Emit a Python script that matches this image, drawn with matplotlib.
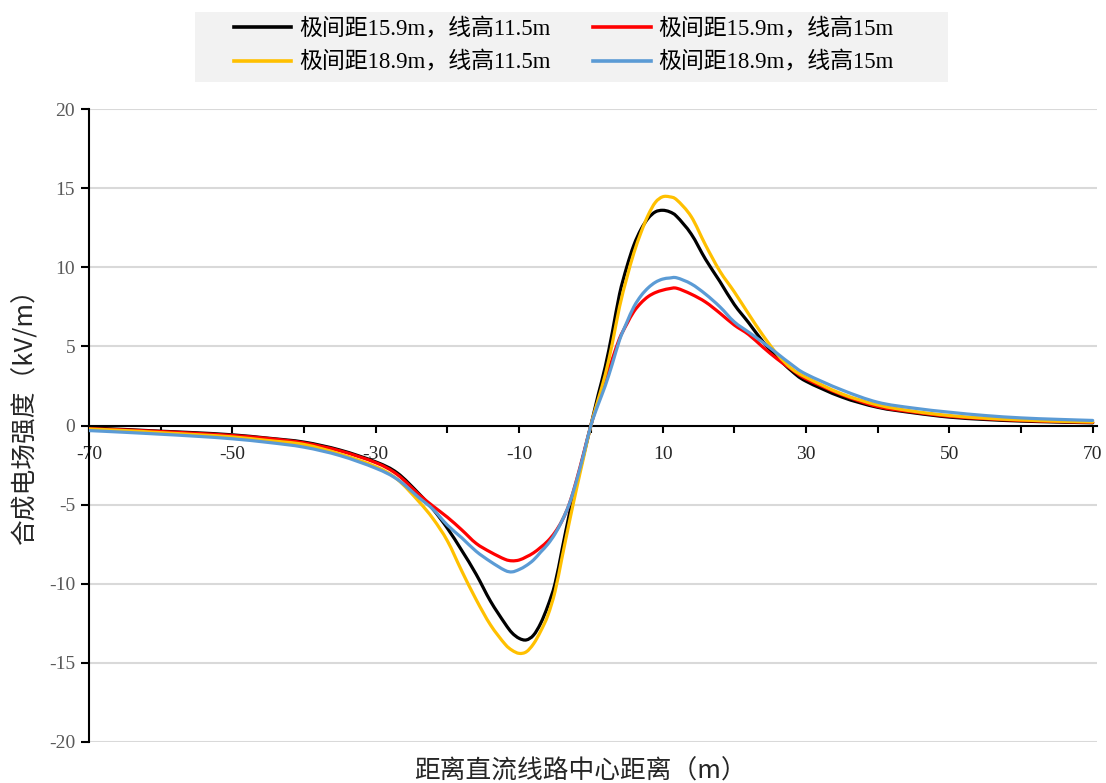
import matplotlib
matplotlib.use("Agg")
import matplotlib.pyplot as plt
from matplotlib.patches import Rectangle, PathPatch
from matplotlib.path import Path
from matplotlib.lines import Line2D

plt.rcParams['font.family'] = ['Liberation Serif', 'Noto Sans CJK SC', 'DejaVu Sans']
plt.rcParams['axes.unicode_minus'] = False

# distance from line centre (m)
distance = [-70, -65, -60, -55, -50, -45, -40, -35,
            -30, -27, -24, -22, -20, -18, -16, -14, -12,
            -11, -10, -9, -8, -7, -6, -5, -4, -3, -2, -1,
            0,
            1, 2, 3, 4, 5, 6, 7, 8, 9, 10, 11, 12,
            14, 16, 18, 20, 22, 24, 26, 28, 30,
            35, 40, 45, 50, 55, 60, 65, 70]

# total electric field (kV/m)
e_159_115 = [-0.15, -0.25, -0.36, -0.46, -0.59, -0.80, -1.05, -1.55,
             -2.30, -3.00, -4.30, -5.30, -6.50, -7.90, -9.40, -11.1, -12.5,
             -13.1, -13.45, -13.55, -13.25, -12.5, -11.4, -10.0, -7.80, -5.60, -3.70, -1.85,
             0.0,
             1.90, 3.70, 5.90, 8.30, 10.0, 11.4, 12.4, 13.1, 13.5, 13.6, 13.5, 13.2,
             12.1, 10.5, 9.10, 7.65, 6.50, 5.30, 4.30, 3.45, 2.80,
             1.80, 1.15, 0.80, 0.53, 0.38, 0.28, 0.22, 0.17]

e_159_15 = [-0.20, -0.28, -0.38, -0.50, -0.63, -0.82, -1.10, -1.60,
            -2.35, -3.10, -4.35, -5.10, -5.80, -6.60, -7.45, -8.00, -8.45,
            -8.55, -8.50, -8.30, -8.05, -7.70, -7.30, -6.75, -6.00, -4.95, -3.45, -1.75,
            0.0,
            1.50, 2.90, 4.20, 5.50, 6.40, 7.20, 7.75, 8.15, 8.40, 8.55, 8.65, 8.67,
            8.30, 7.80, 7.10, 6.35, 5.75, 4.95, 4.20, 3.55, 2.95,
            1.95, 1.20, 0.85, 0.58, 0.43, 0.32, 0.25, 0.20]

e_189_115 = [-0.22, -0.32, -0.45, -0.58, -0.72, -0.95, -1.20, -1.80,
             -2.60, -3.40, -4.80, -5.90, -7.30, -9.20, -11.0, -12.6, -13.8,
             -14.2, -14.4, -14.3, -13.8, -13.0, -12.0, -10.5, -8.30, -6.10, -4.00, -2.00,
             0.0,
             1.60, 3.20, 5.20, 7.50, 9.30, 10.9, 12.2, 13.3, 14.1, 14.45, 14.45, 14.25,
             13.2, 11.4, 9.75, 8.45, 7.05, 5.70, 4.50, 3.60, 3.05,
             2.00, 1.30, 0.90, 0.63, 0.46, 0.35, 0.27, 0.22]

e_189_15 = [-0.32, -0.43, -0.55, -0.68, -0.84, -1.07, -1.37, -1.90,
            -2.70, -3.40, -4.55, -5.30, -6.30, -7.10, -7.95, -8.60, -9.15,
            -9.25, -9.10, -8.85, -8.50, -8.00, -7.50, -6.85, -6.00, -4.95, -3.50, -1.80,
            0.0,
            1.30, 2.50, 3.90, 5.40, 6.50, 7.50, 8.20, 8.70, 9.05, 9.25, 9.32, 9.33,
            8.95, 8.30, 7.50, 6.55, 5.90, 5.25, 4.55, 3.85, 3.25,
            2.25, 1.47, 1.10, 0.84, 0.63, 0.48, 0.39, 0.32]

labels = ["极间距15.9m，线高11.5m", "极间距15.9m，线高15m",
          "极间距18.9m，线高11.5m", "极间距18.9m，线高15m"]
colors = ["#000000", "#ff0000", "#ffc000", "#5b9bd5"]
series = [e_159_115, e_159_15, e_189_115, e_189_15]

x_ticks = list(range(-70, 71, 10))
x_ticklabels = [str(t) if (t // 10) % 2 != 0 else "" for t in x_ticks]
y_ticks = list(range(-20, 21, 5))


def smooth_path(xs, ys):
    """Smoothed line through the points as cubic Bezier segments (Catmull-Rom)."""
    n = len(xs)
    verts = [(xs[0], ys[0])]
    codes = [Path.MOVETO]
    for i in range(n - 1):
        i0 = max(i - 1, 0)
        i3 = min(i + 2, n - 1)
        c1 = (xs[i] + (xs[i + 1] - xs[i0]) / 6.0, ys[i] + (ys[i + 1] - ys[i0]) / 6.0)
        c2 = (xs[i + 1] - (xs[i3] - xs[i]) / 6.0, ys[i + 1] - (ys[i3] - ys[i]) / 6.0)
        verts += [c1, c2, (xs[i + 1], ys[i + 1])]
        codes += [Path.CURVE4] * 3
    return Path(verts, codes)


W, H = 1106, 783
fig = plt.figure(figsize=(W / 100, H / 100), dpi=100)
ax = fig.add_axes([89 / W, 1 - 742 / H, (1097 - 89) / W, (742 - 109) / H])

handles = []
for vals, c, lab in zip(series, colors, labels):
    ax.add_patch(PathPatch(smooth_path(distance, vals), facecolor="none", edgecolor=c,
                           lw=2.3, capstyle="round", joinstyle="round", zorder=3))
    handles.append(Line2D([], [], color=c, lw=2.6, label=lab))

ax.set_xlim(-70, 70.6)
ax.set_ylim(-20, 20)
ax.set_yticks(y_ticks)
ax.set_xticks(x_ticks)
ax.set_xticklabels(x_ticklabels)

for y in y_ticks:
    if y != 0:
        ax.axhline(y, color="#d9d9d9", lw=1.5, zorder=1)

for s in ("top", "right"):
    ax.spines[s].set_visible(False)
ax.spines["bottom"].set_position(("data", 0))
ax.spines["bottom"].set_color("#000000")
ax.spines["bottom"].set_linewidth(1.5)
ax.spines["bottom"].set_zorder(2)
ax.spines["left"].set_color("#000000")
ax.spines["left"].set_linewidth(1.5)

ax.tick_params(axis="y", direction="out", length=6, width=1.5, pad=4,
               labelsize=14, labelcolor="#595959", color="#000000")
ax.tick_params(axis="x", direction="out", length=5, width=1.5, pad=10,
               labelsize=14, labelcolor="#262626", color="#000000")

# legend panel
fig.patches.append(Rectangle((195 / W, 1 - 82 / H), (948 - 195) / W, 70 / H,
                             transform=fig.transFigure, facecolor="#f2f2f2",
                             edgecolor="none", zorder=0))
order = [0, 2, 1, 3]  # row-wise filling: black, red / yellow, blue
leg = fig.legend(handles=[handles[i] for i in order], loc="center",
                 bbox_to_anchor=(564 / W, 1 - 46 / H), ncol=2,
                 frameon=False, fontsize=16.5, handlelength=2.5, handletextpad=0.35,
                 columnspacing=1.85, labelspacing=0.5)

fig.text(580 / W, 1 - 772 / H, "距离直流线路中心距离（m）", ha="center", va="center",
         fontsize=18.5, family=["Noto Sans CJK SC"], color="#262626")
fig.text(25 / W, 1 - 410 / H, "合成电场强度（kV/m）", ha="center", va="center",
         rotation=90, fontsize=18.5, family=["Noto Sans CJK SC"], color="#262626")

fig.savefig("out.png", dpi=100, facecolor="white")
